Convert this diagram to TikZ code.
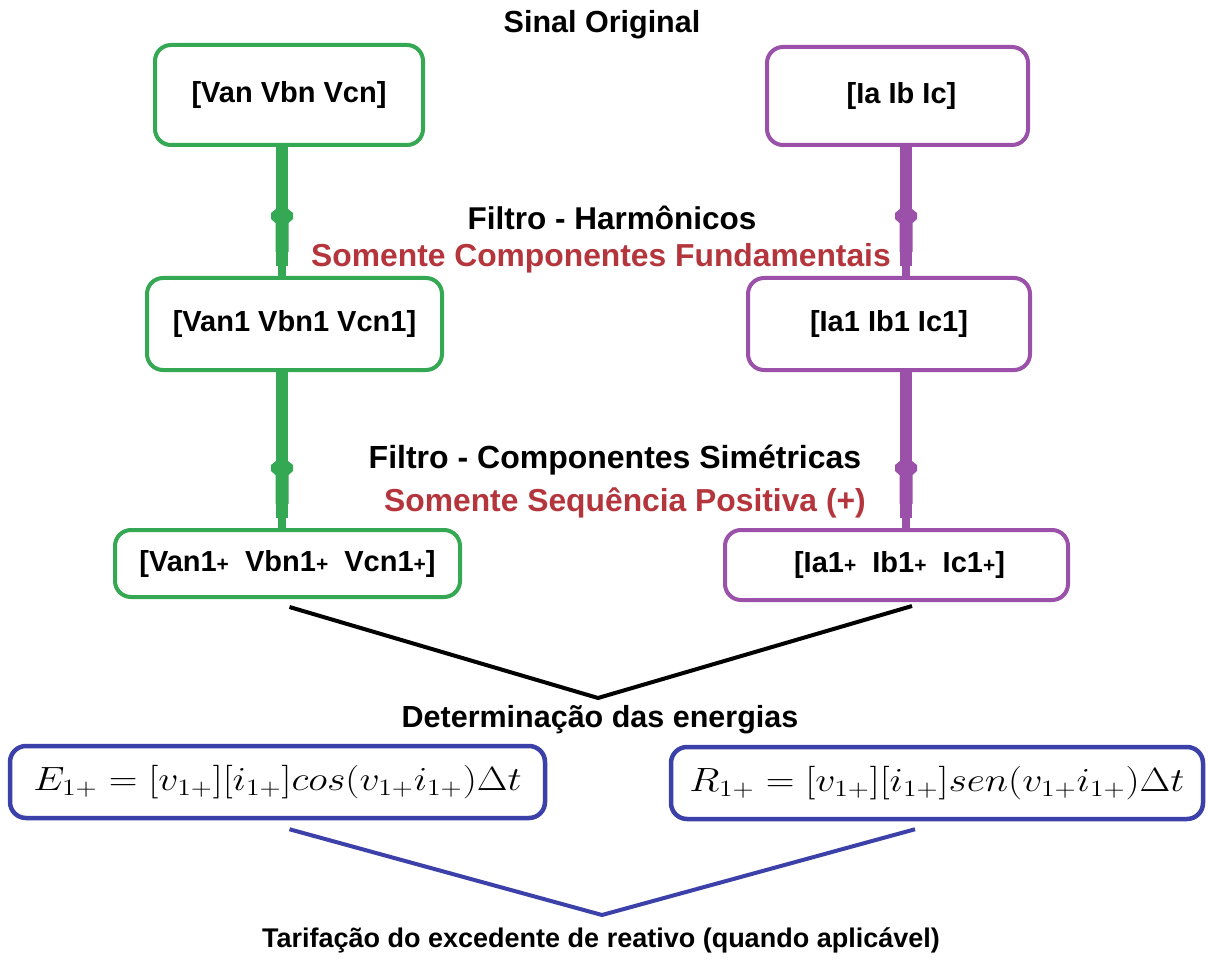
\documentclass[tikz,border=0pt]{standalone}
\usepackage{graphicx}
\usepackage{fontspec}
\setmainfont{Liberation Sans}
\usetikzlibrary{calc}

\definecolor{vgreen}{RGB}{52,168,83}
\definecolor{vpurple}{RGB}{155,80,170}
\definecolor{vblue}{RGB}{60,65,170}
\definecolor{vred}{RGB}{180,54,60}

% plus sign of the positive-sequence labels
\newcommand{\pl}{{\fontsize{21}{24}\selectfont+}}
% energy formulas, set at 20pt and enlarged
\newcommand{\bigformula}[1]{\scalebox{1.92}[1.62]{\fontsize{20}{24}\selectfont$#1$}}
% widened collar on a flow line, placed at its top edge
\newcommand{\flowhead}[2]{%
  \fill[#1] ($(#2)+(-6,-3)$) -- ($(#2)+(-11,1)$) -- ($(#2)+(-11,7)$)
    -- ($(#2)+(-6.5,11)$) -- ($(#2)+(-6.5,40)$) -- ($(#2)+(6.5,40)$)
    -- ($(#2)+(6.5,11)$) -- ($(#2)+(11,7)$) -- ($(#2)+(11,1)$)
    -- ($(#2)+(6,-3)$) -- cycle;}
% flow line from box #2 to box #3 along the vertical through #4
\newcommand{\flowline}[4]{%
  \draw[flow, #1] (#2.south -| #4) -- ($(#3.north -| #4)+(0,-10)$);
  \draw[flowtip, #1] ($(#3.north -| #4)+(0,-12)$) -- (#3.north -| #4);
  \flowhead{#1}{$(#3.north -| #4)+(0,-64)$}}

\begin{document}
\begin{tikzpicture}[x=1pt,y=-1pt,
  box/.style={draw, line width=4pt, rounded corners=16pt, inner sep=0pt,
    text=black, font=\bfseries\fontsize{29}{34}\selectfont},
  mathbox/.style={draw=vblue, line width=4.5pt, rounded corners=16pt, inner sep=0pt,
    text=black},
  title/.style={inner sep=0pt, text=black, font=\bfseries\fontsize{31.5}{36}\selectfont},
  note/.style={inner sep=0pt, text=vred, font=\bfseries\fontsize{31.8}{36}\selectfont},
  flow/.style={line width=12pt},
  flowtip/.style={line width=8pt},
  mergeline/.style={line width=4pt, line join=miter}]
\useasboundingbox (0,0) rectangle (1208,960);
\fill[white] (0,0) rectangle (1208,960);

% signal boxes
\node[box, draw=vgreen, minimum width=268pt, minimum height=100pt] (g1) at (289,95) {[Van Vbn Vcn]};
\node[box, draw=vpurple, minimum width=261pt, minimum height=98pt] (p1) at (897.5,96) {\hspace*{8pt}[Ia Ib Ic]};
\node[box, draw=vgreen, minimum width=295pt, minimum height=92pt] (g2) at (294.5,324) {[Van1 Vbn1 Vcn1]};
\node[box, draw=vpurple, minimum width=282pt, minimum height=92pt] (p2) at (889,324) {[Ia1 Ib1 Ic1]};
\node[box, draw=vgreen, minimum width=345pt, minimum height=67pt] (g3) at (287.5,563.5) {[Van1\pl\ \ Vbn1\pl\ \ Vcn1\pl]};
\node[box, draw=vpurple, minimum width=343pt, minimum height=70pt] (p3) at (896.5,565) {\hspace*{6pt}[Ia1\pl\ \ Ib1\pl\ \ Ic1\pl]};

% energy boxes
\node[mathbox, minimum width=535pt, minimum height=72pt] (e) at (277.5,782)
  {\bigformula{E_{1+}=[v_{1+}][i_{1+}]cos(v_{1+}i_{1+})\Delta t}};
\node[mathbox, minimum width=532pt, minimum height=72pt] (r) at (937,783)
  {\bigformula{R_{1+}=[v_{1+}][i_{1+}]sen(v_{1+}i_{1+})\Delta t}};

% headings and notes
\node[title, font=\bfseries\fontsize{30.5}{36}\selectfont] (t0) at (602,25) {Sinal Original};
\node[title] (t1) at (612,218) {Filtro - Harmônicos};
\node[note] (n1) at (601,258) {Somente Componentes Fundamentais};
\node[title, font=\bfseries\fontsize{32}{36}\selectfont] (t2) at (615,460) {Filtro - Componentes Simétricas};
\node[note] (n2) at (625,503) {Somente Sequência Positiva (+)};
\node[title, font=\bfseries\fontsize{30.5}{36}\selectfont] (t3) at (600,720) {Determinação das energias};
\node[title, font=\bfseries\fontsize{27}{32}\selectfont] (t4) at (601,940) {Tarifação do excedente de reativo (quando aplicável)};

% flow lines between the stages
\coordinate (gx) at (282,0);
\coordinate (px) at (906,0);
\flowline{vgreen}{g1}{g2}{gx}
\flowline{vgreen}{g2}{g3}{gx}
\flowline{vpurple}{p1}{p2}{px}
\flowline{vpurple}{p2}{p3}{px}

% merging lines
\coordinate (mA) at (598,698);
\coordinate (mB) at (602,915);
\draw[mergeline, black] ($(g3.south)+(2,8)$) -- (mA) -- ($(p3.south)+(15.5,4)$);
\draw[mergeline, vblue] ($(e.south)+(12,9)$) -- (mB) -- ($(r.south)+(-22,8)$);
\end{tikzpicture}
\end{document}
